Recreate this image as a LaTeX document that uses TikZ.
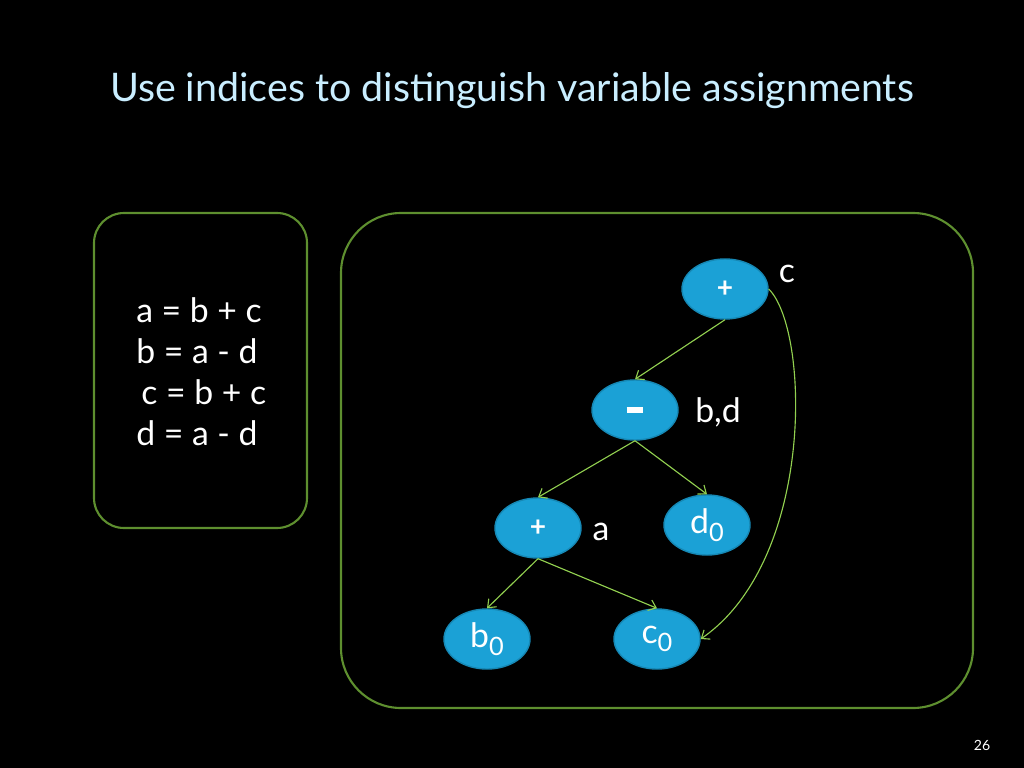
\documentclass[tikz,border=0pt]{standalone}
\usepackage{fontspec}
\setmainfont{Lato}
\usepackage{tikz}
\usetikzlibrary{arrows.meta,shapes.geometric}
\definecolor{frame}{HTML}{5E8F2F}
\definecolor{edgegreen}{HTML}{92D050}
\definecolor{opfill}{HTML}{1BA1D6}
\definecolor{opline}{HTML}{1688B5}
\definecolor{titleblue}{HTML}{C9EEFF}
\newcommand{\idx}[1]{\raisebox{-.5ex}{\fontsize{18}{20}\selectfont #1}}
\tikzset{
  panel/.style={draw=frame,line width=1.5pt},
  opnode/.style={ellipse,fill=opfill,draw=opline,line width=1pt,minimum width=2.15cm,minimum height=1.5cm,inner sep=0pt,text=white,font=\fontsize{24}{28}\selectfont},
  opsign/.style={opnode,font=\fontsize{20}{22}\bfseries},
  tag/.style={text=white,font=\fontsize{24}{28}\selectfont},
  link/.style={-{Straight Barb[length=5pt,width=8pt]},draw=edgegreen,line width=.8pt}
}
\begin{document}
\begin{tikzpicture}[x=.025cm,y=-.025cm]
  \fill[black] (0,0) rectangle (1024,768);
  \node[text=titleblue,font=\fontsize{28}{32}\selectfont] (title) at (512,91) {Use indices to distinguish variable assignments};
  \draw[panel,rounded corners=.75cm] (94,213) rectangle (307,528);
  \draw[panel,rounded corners=1.5cm] (341,213) rectangle (973,708);
  \foreach \eq/\y/\dx [count=\i] in {a = b + c/322/0, b = a - d/363/0, c = b + c/404/5, d = a - d/445/0}
    \node[tag,anchor=base west,inner sep=0pt] (eq\i) at (136+\dx,\y) {\eq};
  \node[opsign] (plusc) at (725,289) {+};
  \node[opsign] (minusbd) at (635,410) {\rule[-2pt]{12pt}{4pt}};
  \node[opsign] (plusa) at (538,528) {+};
  \node[opnode] (dzero) at (707,525) {d\idx{0}};
  \node[opnode] (bzero) at (487,639) {b\idx{0}};
  \node[opnode] (czero) at (657,639) {c\idx{0}};
  \node[tag] (lc) at (787,274) {c};
  \node[tag] (lbd) at (718,412) {b,d};
  \node[tag] (la) at (601,532) {a};
  \draw[link] (plusc.south) -- (minusbd.north);
  \draw[link] (minusbd.south) -- (plusa.north);
  \draw[link] (minusbd.south) -- (dzero.north);
  \draw[link] (plusa.south) -- (bzero.north);
  \draw[link] (plusa.south) -- (czero.north);
  \draw[link] (plusc.east) .. controls (810,330) and (815,560) .. (czero.east);
  \node[text=white,font=\fontsize{10}{12}\selectfont] (pnum) at (982,745) {26};
\end{tikzpicture}
\end{document}
